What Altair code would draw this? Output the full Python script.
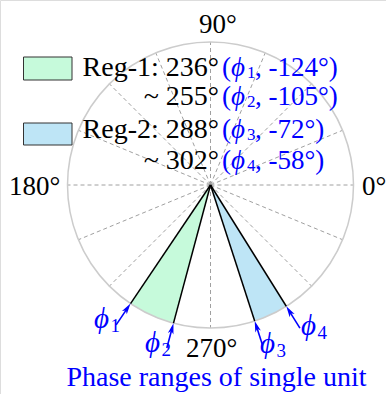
import math
import altair as alt
import pandas as pd

# ---- values -------------------------------------------------------------
region_names = ["Reg-1", "Reg-2"]
region_start = [236, 288]          # degrees
region_end = [255, 302]
phi_ids = ["1", "2", "3", "4"]
phi_deg = [236, 255, 288, 302]
phi_signed = [-124, -105, -72, -58]
spoke_deg = [0, 22.5, 45, 67.5, 90, 112.5, 135, 157.5,
             180, 202.5, 225, 247.5, 270, 292.5, 315, 337.5]
cardinal_deg = [0, 90, 180, 270]
caption = "Phase ranges of single unit"

# ---- layout -------------------------------------------------------------
W, H = 386, 394
CX, CY, R = 210.5, 185.0, 143.0          # polar centre / radius in pixels
FONT = "Liberation Serif, Times New Roman, serif"
BLUE = "#0000ff"
FILLS = ["#c6fadb", "#bee5f6"]

xs = alt.Scale(domain=[-CX / R, (W - CX) / R], range=[0, W], nice=False, zero=False)
ys = alt.Scale(domain=[-(H - CY) / R, CY / R], range=[H, 0], nice=False, zero=False)


def ux(px):
    return (px - CX) / R


def uy(py):
    return (CY - py) / R


def XY(xf="x", yf="y"):
    return dict(x=alt.X(f"{xf}:Q", scale=xs, axis=None),
                y=alt.Y(f"{yf}:Q", scale=ys, axis=None))


RAD = "PI / 180"

# dashed spokes
spokes = alt.Chart(pd.DataFrame({"deg": spoke_deg})).transform_calculate(
    x="0", y="0",
    x2=f"cos(datum.deg * {RAD})", y2=f"sin(datum.deg * {RAD})",
).mark_rule(color="#a0a0a0", strokeWidth=1, strokeDash=[4, 3]).encode(
    **XY(), x2="x2:Q", y2="y2:Q")

theta_scale = alt.Scale(domain=[0, 360], range=[0, 2 * math.pi])
radius_scale = alt.Scale(type="linear", domain=[0, 1], range=[0, R], zero=True)

# shaded phase regions (theta measured clockwise from north)
wedges = alt.Chart(pd.DataFrame({"name": region_names,
                                 "start": region_start,
                                 "end": region_end})).transform_calculate(
    x="0", y="0", r="1",
    t1="450 - datum.end", t2="450 - datum.start",
).mark_arc(strokeWidth=0).encode(
    **XY(),
    theta=alt.Theta("t1:Q", scale=theta_scale, stack=None),
    theta2="t2:Q",
    radius=alt.Radius("r:Q", scale=radius_scale),
    color=alt.Color("name:N", scale=alt.Scale(domain=region_names, range=FILLS),
                    legend=None),
)

# outer circle
circle = alt.Chart(pd.DataFrame({"a": [0], "b": [360]})).transform_calculate(
    x="0", y="0", r="1"
).mark_arc(fillOpacity=0, stroke="#cccccc", strokeWidth=1.5).encode(
    **XY(),
    theta=alt.Theta("a:Q", scale=theta_scale, stack=None),
    theta2="b:Q",
    radius=alt.Radius("r:Q", scale=radius_scale),
)

# boundary lines of the regions
edges = alt.Chart(pd.DataFrame({"deg": phi_deg})).transform_calculate(
    x="0", y="0",
    x2=f"cos(datum.deg * {RAD})", y2=f"sin(datum.deg * {RAD})",
).mark_rule(color="black", strokeWidth=1.5).encode(**XY(), x2="x2:Q", y2="y2:Q")

# arrows pointing at the boundary phases
arrow_base = alt.Chart(pd.DataFrame({"deg": phi_deg})).transform_calculate(
    x=f"1.18 * cos(datum.deg * {RAD})", y=f"1.18 * sin(datum.deg * {RAD})",
    x2=f"1.03 * cos(datum.deg * {RAD})", y2=f"1.03 * sin(datum.deg * {RAD})",
    hx=f"cos(datum.deg * {RAD})", hy=f"sin(datum.deg * {RAD})",
    rot="(630 - datum.deg) % 360",
)
shafts = arrow_base.mark_rule(color=BLUE, strokeWidth=1.6).encode(
    **XY(), x2="x2:Q", y2="y2:Q")
heads = arrow_base.mark_point(
    shape="M0,0L0.42,1.6L0,1.2L-0.42,1.6Z", filled=True, color=BLUE,
    opacity=1, size=190, strokeWidth=0,
).encode(**XY("hx", "hy"), angle=alt.Angle("rot:Q", scale=None))


def text_layer(rows, **mark):
    df = pd.DataFrame(rows, columns=["text", "px", "py"])
    df["x"] = df["px"].map(ux)
    df["y"] = df["py"].map(uy)
    base = dict(font=FONT, baseline="alphabetic")
    base.update(mark)
    return alt.Chart(df).mark_text(**base).encode(**XY(), text="text:N")


# cardinal angle labels
card_pos = {0: (362, 195), 90: (199, 33), 180: (9, 195), 270: (186, 357)}
cardinals = text_layer([(f"{d}°", *card_pos[d]) for d in cardinal_deg],
                       fontSize=27, align="left", color="black")

# phi labels next to the arrows
phi_pos = [(101.5, 328), (152.5, 352), (267.5, 353), (308.5, 335)]
phi_big = text_layer([("ϕ", *p) for p in phi_pos],
                     fontSize=29, fontStyle="italic", align="center", color=BLUE)
phi_sub = text_layer([(i, p[0] + 9, p[1] + 4) for i, p in zip(phi_ids, phi_pos)],
                     fontSize=19, align="left", color=BLUE)

# legend boxes
box_df = pd.DataFrame({"name": region_names,
                       "x": [ux(23.5)] * 2, "x2": [ux(72)] * 2,
                       "y": [uy(57), uy(123)], "y2": [uy(80), uy(145)]})
boxes = alt.Chart(box_df).mark_rect(stroke="#333333", strokeWidth=1).encode(
    **XY(), x2="x2:Q", y2="y2:Q",
    color=alt.Color("name:N", scale=alt.Scale(domain=region_names, range=FILLS),
                    legend=None))

# legend text
baselines = [76, 105, 138, 169]
black_rows = []
for k, name in enumerate(region_names):
    black_rows.append((f"{name}: {region_start[k]}°", 219, baselines[2 * k]))
    black_rows.append((f"~ {region_end[k]}°", 219, baselines[2 * k + 1]))
legend_black = text_layer(black_rows, fontSize=28, align="right", color="black")

X0 = 222
paren = text_layer([("(", X0, b) for b in baselines], fontSize=27,
                   align="left", color=BLUE)
leg_phi = text_layer([("ϕ", X0 + 9, b) for b in baselines], fontSize=27,
                     fontStyle="italic", align="left", color=BLUE)
leg_sub = text_layer([(i, X0 + 25, b + 2) for i, b in zip(phi_ids, baselines)],
                     fontSize=17, align="left", color=BLUE)
leg_val = text_layer([(f", {v}°)", X0 + 33, b) for v, b in zip(phi_signed, baselines)],
                     fontSize=27, align="left", color=BLUE)

cap = text_layer([(caption, 216.5, 386)], fontSize=28, align="center", color=BLUE)

chart = alt.layer(
    spokes, wedges, circle, edges, shafts, heads,
    cardinals, phi_big, phi_sub, boxes, legend_black,
    paren, leg_phi, leg_sub, leg_val, cap,
).properties(
    width=W, height=H, padding=0,
    autosize=alt.AutoSizeParams(type="none"),
).configure_view(stroke=None).configure(background="white")

chart.save("out.html", embed_options={"renderer": "svg", "actions": False})
